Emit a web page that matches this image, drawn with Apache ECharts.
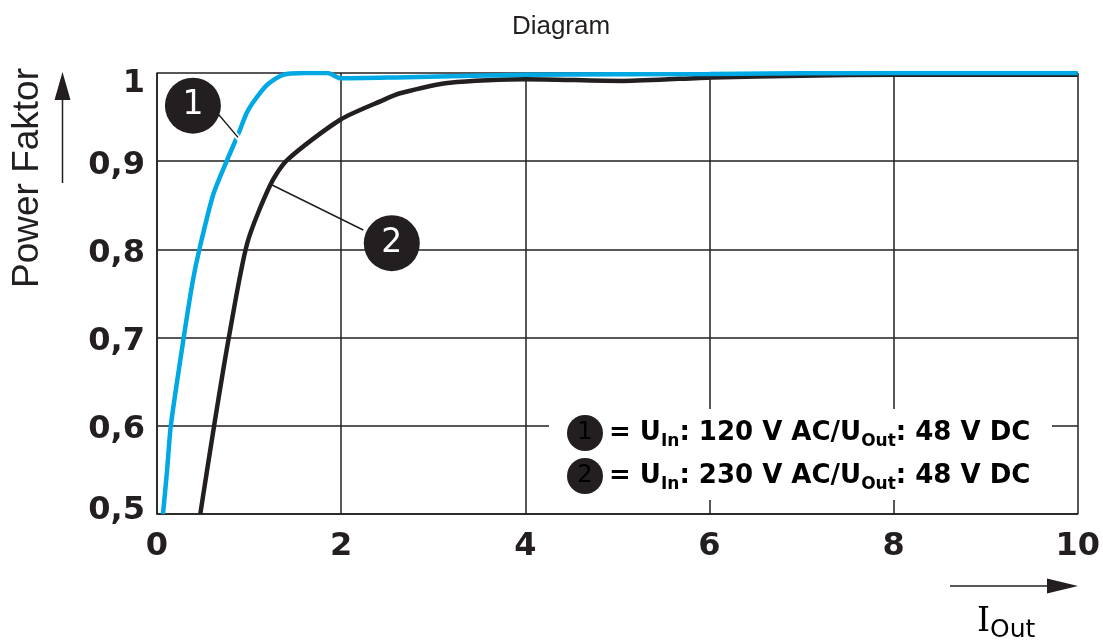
<!DOCTYPE html>
<html>
<head>
<meta charset="utf-8">
<title>Diagram</title>
<script src="https://cdn.jsdelivr.net/npm/echarts@6/dist/echarts.min.js"></script>
<style>
  html, body { margin: 0; padding: 0; background: #fff; }
  #chart { width: 1103px; height: 641px; }
</style>
</head>
<body>
<div id="chart"></div>
<script>
// curve 1: U_In 120 V AC
const blueX = [0.065, 0.11, 0.15, 0.29, 0.39, 0.46, 0.61, 0.76, 0.88, 0.99, 1.19, 1.37, 1.6, 1.85, 2.0, 2.6, 4.0, 6.0, 8.0, 10.0]
const blueY = [0.5, 0.55, 0.6, 0.7, 0.765, 0.8, 0.862, 0.901, 0.93, 0.958, 0.986, 0.998, 1.0, 1.0, 0.994, 0.995, 0.998, 0.999, 1.0, 1.0]
// curve 2: U_In 230 V AC
const blackX = [0.47, 0.62, 0.78, 0.98, 1.23, 1.41, 1.99, 2.45, 2.64, 3.18, 4.0, 5.06, 6.03, 7.0, 8.0, 10.0]
const blackY = [0.5, 0.6, 0.7, 0.807, 0.873, 0.901, 0.947, 0.969, 0.977, 0.989, 0.993, 0.991, 0.995, 0.997, 0.998, 0.998]

const yTicks = [0.5, 0.6, 0.7, 0.8, 0.9, 1]
const yTickLabels = ['0,5', '0,6', '0,7', '0,8', '0,9', '1']

// numbered callouts and their leader lines (data coordinates)
const calloutNames = ['1', '2']
const calloutX = [0.39, 2.55]
const calloutY = [0.963, 0.807]
const leader1 = [[0.66, 0.954], [0.88, 0.927]]
const leader1Gap = [[0.83, 0.933], [0.91, 0.923]]
const leader2 = [[2.24, 0.822], [1.25, 0.873]]

const legendLines = [
  ['1', '120 V AC', '48 V DC'],
  ['2', '230 V AC', '48 V DC']
]

const ink = '#231f20'
const blue = '#00a9e4'

function pairs(xs, ys) {
  return xs.map((x, i) => [x, ys[i]])
}

const chart = echarts.init(document.getElementById('chart'))

const legendRich = {
  c: { backgroundColor: ink, borderRadius: 18, width: 36, height: 36, lineHeight: 36, align: 'center', color: '#fff', fontSize: 24, fontFamily: 'DejaVu Sans' },
  sp: { width: 6 },
  t: { fontSize: 26, fontWeight: 'bold', fontFamily: 'DejaVu Sans', color: ink },
  s: { fontSize: 17, fontWeight: 'bold', fontFamily: 'DejaVu Sans', color: ink, padding: [18, 0, 0, 0] }
}

const tickFont = { fontSize: 32, fontWeight: 'bold', fontFamily: 'DejaVu Sans', color: ink }

chart.setOption({
  animation: false,
  title: {
    text: 'Diagram',
    left: 556,
    textAlign: 'center',
    top: 9,
    textStyle: { fontSize: 26, fontWeight: 'normal', fontFamily: 'Liberation Sans', color: ink }
  },
  grid: { left: 157, right: 25, top: 73, bottom: 127, containLabel: false },
  xAxis: {
    type: 'value',
    min: 0,
    max: 10,
    interval: 2,
    axisLine: { show: true, lineStyle: { color: ink, width: 1.5 } },
    axisTick: { show: false },
    splitLine: { show: true, lineStyle: { color: ink, width: 1.5 } },
    axisLabel: Object.assign({ margin: 17 }, tickFont)
  },
  yAxis: {
    type: 'value',
    min: 0.5,
    max: 1,
    interval: 0.1,
    axisLine: { show: true, lineStyle: { color: ink, width: 1.5 } },
    axisTick: { show: false },
    splitLine: { show: true, lineStyle: { color: ink, width: 1.5 } },
    axisLabel: Object.assign({
      margin: 12,
      formatter: function (v) {
        let i = yTicks.findIndex(t => Math.abs(t - v) < 1e-6)
        let s = i >= 0 ? yTickLabels[i] : ''
        if (i === yTicks.length - 1) return '{hi|' + s + '}'
        if (i === 0) return '{lo|' + s + '}'
        return '{n|' + s + '}'
      },
      rich: {
        n: Object.assign({ padding: [8, 0, 0, 0] }, tickFont),
        hi: Object.assign({ padding: [22, 0, 0, 0] }, tickFont),
        lo: Object.assign({ padding: [0, 0, 6, 0] }, tickFont)
      }
    }, tickFont)
  },
  series: [
    {
      name: '230 V AC',
      type: 'line',
      data: pairs(blackX, blackY),
      smooth: 0.25,
      symbol: 'none',
      z: 3,
      lineStyle: { color: ink, width: 4.5 }
    },
    {
      name: '120 V AC',
      type: 'line',
      data: pairs(blueX, blueY),
      smooth: 0.25,
      symbol: 'none',
      z: 4,
      lineStyle: { color: blue, width: 4.5 }
    },
    {
      type: 'line',
      data: leader1Gap,
      symbol: 'none',
      z: 5,
      lineStyle: { color: '#fff', width: 5 }
    },
    {
      type: 'line',
      data: leader1,
      symbol: 'none',
      z: 6,
      lineStyle: { color: ink, width: 1.5 }
    },
    {
      type: 'line',
      data: leader2,
      symbol: 'none',
      z: 6,
      lineStyle: { color: ink, width: 1.5 }
    },
    {
      type: 'scatter',
      data: calloutNames.map((n, i) => ({ name: n, value: [calloutX[i], calloutY[i]] })),
      symbol: 'circle',
      symbolSize: 56,
      z: 7,
      itemStyle: { color: ink, opacity: 1 },
      label: {
        show: true,
        position: 'inside',
        formatter: '{b}',
        color: '#fff',
        fontSize: 33,
        fontFamily: 'DejaVu Sans'
      }
    }
  ],
  graphic: [
    {
      type: 'rect',
      z: 100,
      shape: { x: 549, y: 409, width: 503, height: 91 },
      style: { fill: '#fff' }
    },
    ...legendLines.map((l, i) => ({
      type: 'text',
      z: 101,
      x: 567,
      y: 433 + i * 43,
      style: {
        text: '{c|' + l[0] + '}{sp|}{t|= U}{s|In}{t|: ' + l[1] + '/U}{s|Out}{t|: ' + l[2] + '}',
        rich: legendRich,
        verticalAlign: 'middle',
        textVerticalAlign: 'middle'
      }
    })),
    {
      type: 'text',
      x: 28,
      y: 178,
      rotation: Math.PI / 2,
      style: {
        text: 'Power Faktor',
        font: '37px "Liberation Sans"',
        fill: ink,
        align: 'center',
        textAlign: 'center',
        verticalAlign: 'middle',
        textVerticalAlign: 'middle'
      }
    },
    {
      type: 'line',
      shape: { x1: 62.5, y1: 183, x2: 62.5, y2: 96 },
      style: { stroke: ink, lineWidth: 1.5 }
    },
    {
      type: 'polygon',
      shape: { points: [[62.5, 72], [54.5, 100], [70.5, 100]] },
      style: { fill: ink }
    },
    {
      type: 'line',
      shape: { x1: 950, y1: 586, x2: 1050, y2: 586 },
      style: { stroke: ink, lineWidth: 1.5 }
    },
    {
      type: 'polygon',
      shape: { points: [[1078, 586], [1047, 578.5], [1047, 593.5]] },
      style: { fill: ink }
    },
    {
      type: 'text',
      x: 977,
      y: 622,
      style: {
        text: '{i|I}{o|Out}',
        rich: {
          i: { fontFamily: 'DejaVu Serif', fontSize: 33, color: ink },
          o: { fontFamily: 'DejaVu Sans', fontSize: 25, color: ink, padding: [16, 0, 0, 0] }
        },
        verticalAlign: 'middle',
        textVerticalAlign: 'middle'
      }
    }
  ]
})
</script>
</body>
</html>
